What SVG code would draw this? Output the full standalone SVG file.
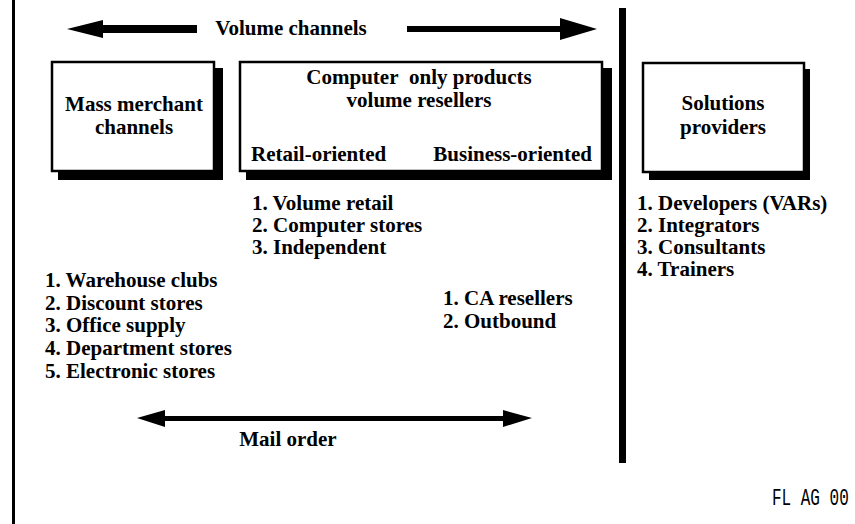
<svg xmlns="http://www.w3.org/2000/svg" width="855" height="524" viewBox="0 0 855 524">
<style>
.t{font-family:"Liberation Serif","Times New Roman",serif;font-weight:bold;font-size:21px;fill:#000}
.c{text-anchor:middle}
.e{text-anchor:end}
.box{fill:#fff;stroke:#000;stroke-width:2.5}
.sh{fill:#000}
.ln{fill:#000}
.code{font-family:"Liberation Mono","DejaVu Sans Mono",monospace;font-size:16px;fill:#000}
</style>
<rect width="855" height="524" fill="#fff"/>
<rect class="ln" x="12" y="0" width="3" height="524"/>
<rect class="ln" x="619" y="8" width="7" height="455"/>

<g id="connectors">
  <polygon class="ln" points="67,29 103,20 103,25 197,25 197,33 103,33 103,38"/>
  <polygon class="ln" points="407,26 560,26 560,18 597,29 560,40 560,32 407,32"/>
  <polygon class="ln" points="137,418 165,410 165,416 503,416 503,410 532,418 503,427 503,421 165,421 165,427"/>
</g>

<g id="label-volume">
  <text class="t c" x="291" y="35">Volume channels</text>
</g>
<g id="label-mail">
  <text class="t c" x="288" y="446">Mail order</text>
</g>

<g id="node-mass">
  <rect class="sh" x="58" y="68" width="165" height="112"/>
  <rect class="box" x="52" y="62" width="162" height="109"/>
  <text class="t c" x="134" y="111">Mass merchant</text>
  <text class="t c" x="134" y="134">channels</text>
</g>

<g id="node-computer">
  <rect class="sh" x="246" y="68" width="366" height="112"/>
  <rect class="box" x="240" y="62" width="362" height="109"/>
  <text class="t c" x="419" y="84">Computer&#160; only products</text>
  <text class="t c" x="419" y="107">volume resellers</text>
  <text class="t" x="251" y="161">Retail-oriented</text>
  <text class="t e" x="592" y="161">Business-oriented</text>
</g>

<g id="node-solutions">
  <rect class="sh" x="649" y="69" width="161" height="111"/>
  <rect class="box" x="643" y="63" width="161" height="109"/>
  <text class="t c" x="723" y="110">Solutions</text>
  <text class="t c" x="723" y="134">providers</text>
</g>

<g id="list-retail">
  <text class="t" x="252" y="210">1. Volume retail</text>
  <text class="t" x="252" y="232">2. Computer stores</text>
  <text class="t" x="252" y="254">3. Independent</text>
</g>

<g id="list-solutions">
  <text class="t" x="637" y="210">1. Developers (VARs)</text>
  <text class="t" x="637" y="232">2. Integrators</text>
  <text class="t" x="637" y="254">3. Consultants</text>
  <text class="t" x="637" y="276">4. Trainers</text>
</g>

<g id="list-mass">
  <text class="t" x="45" y="287">1. Warehouse clubs</text>
  <text class="t" x="45" y="310">2. Discount stores</text>
  <text class="t" x="45" y="332">3. Office supply</text>
  <text class="t" x="45" y="355">4. Department stores</text>
  <text class="t" x="45" y="378">5. Electronic stores</text>
</g>

<g id="list-business">
  <text class="t" x="443" y="305">1. CA resellers</text>
  <text class="t" x="443" y="328">2. Outbound</text>
</g>

<text class="code" transform="translate(772,505) scale(1,1.45)">FL AG 00</text>
</svg>
